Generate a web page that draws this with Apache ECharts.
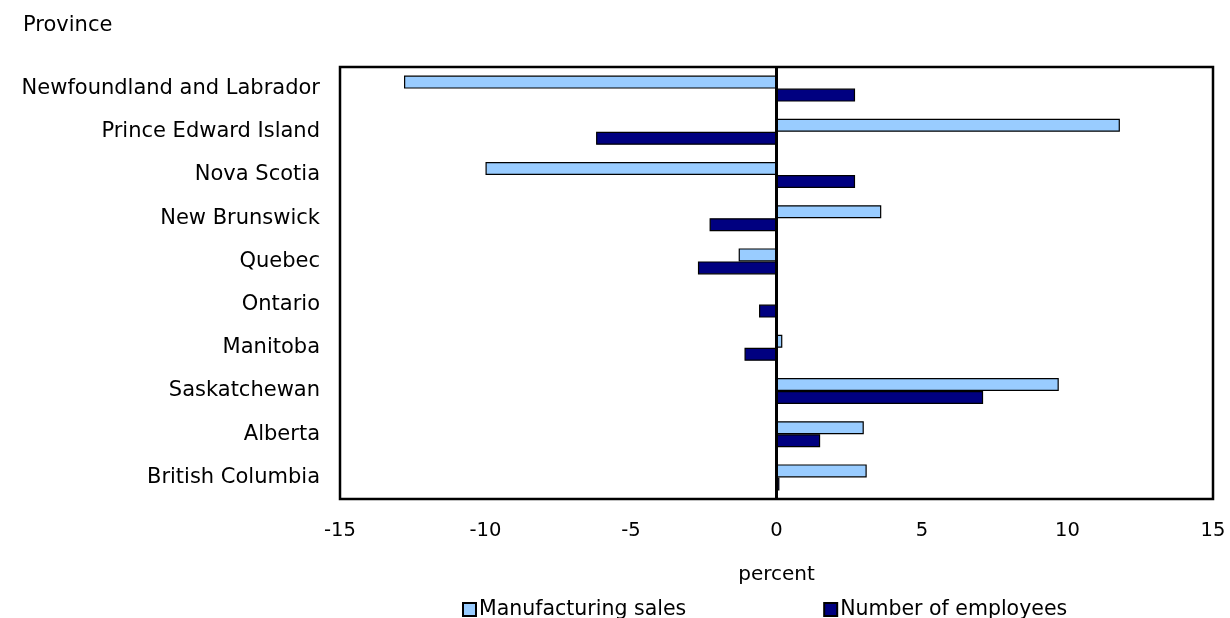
<!DOCTYPE html>
<html>
<head>
<meta charset="utf-8">
<script src="https://cdn.jsdelivr.net/npm/echarts@6/dist/echarts.min.js"></script>
<style>
html,body{margin:0;padding:0;background:#fff;}
#chart{width:1230px;height:618px;}
</style>
</head>
<body>
<div id="chart"></div>
<script>
const provinces = ["Newfoundland and Labrador","Prince Edward Island","Nova Scotia","New Brunswick","Quebec","Ontario","Manitoba","Saskatchewan","Alberta","British Columbia"];
const manufacturingSales = [-12.8, 11.8, -10.0, 3.6, -1.3, 0.0, 0.2, 9.7, 3.0, 3.1];
const numberOfEmployees = [2.7, -6.2, 2.7, -2.3, -2.7, -0.6, -1.1, 7.1, 1.5, 0.1];
const xTicks = [-15, -10, -5, 0, 5, 10, 15];

const FONT = "DejaVu Sans";
const FS = 21;
const chart = echarts.init(document.getElementById('chart'), null, {renderer:'canvas'});
chart.setOption({
  animation:false,
  backgroundColor:'#fff',
  textStyle:{fontFamily:FONT, color:'#000'},
  grid:{left:340, right:17, top:67, bottom:119, show:true, borderColor:'#000', borderWidth:2.5, backgroundColor:'transparent'},
  title:{text:'Province', left:18, top:10, textStyle:{fontFamily:FONT, fontSize:FS, fontWeight:'normal', color:'#000'}},
  legend:{
    bottom:-2, left:462, padding:0, itemGap:137, itemWidth:13, itemHeight:13, icon:'rect',
    textStyle:{fontFamily:FONT, fontSize:20.5, color:'#000', padding:[0,0,0,-2]},
    data:['Manufacturing sales','Number of employees']
  },
  xAxis:{
    type:'value', min:xTicks[0], max:xTicks[xTicks.length-1], interval:5,
    name:'percent', nameLocation:'middle', nameGap:66,
    nameTextStyle:{fontFamily:FONT, fontSize:20, color:'#000'},
    axisLine:{show:false}, axisTick:{show:false}, splitLine:{show:false},
    axisLabel:{fontFamily:FONT, fontSize:19.5, color:'#000', margin:22}
  },
  yAxis:{
    type:'category', data:provinces, inverse:true,
    axisLine:{show:false}, axisTick:{show:false},
    axisLabel:{fontFamily:FONT, fontSize:FS, color:'#000', margin:20, padding:[5,0,0,0]}
  },
  series:[
    {name:'Manufacturing sales', type:'bar', data:manufacturingSales, barWidth:13, barGap:'0%',
     itemStyle:{color:'#99CCFF', borderColor:'#000', borderWidth:1.2},
     markLine:{silent:true, symbol:'none', label:{show:false}, lineStyle:{color:'#000', width:3, type:'solid'}, data:[{xAxis:0}]}},
    {name:'Number of employees', type:'bar', data:numberOfEmployees, barWidth:13, barGap:'0%',
     itemStyle:{color:'#000080', borderColor:'#000', borderWidth:1.2}}
  ]
});
</script>
</body>
</html>
